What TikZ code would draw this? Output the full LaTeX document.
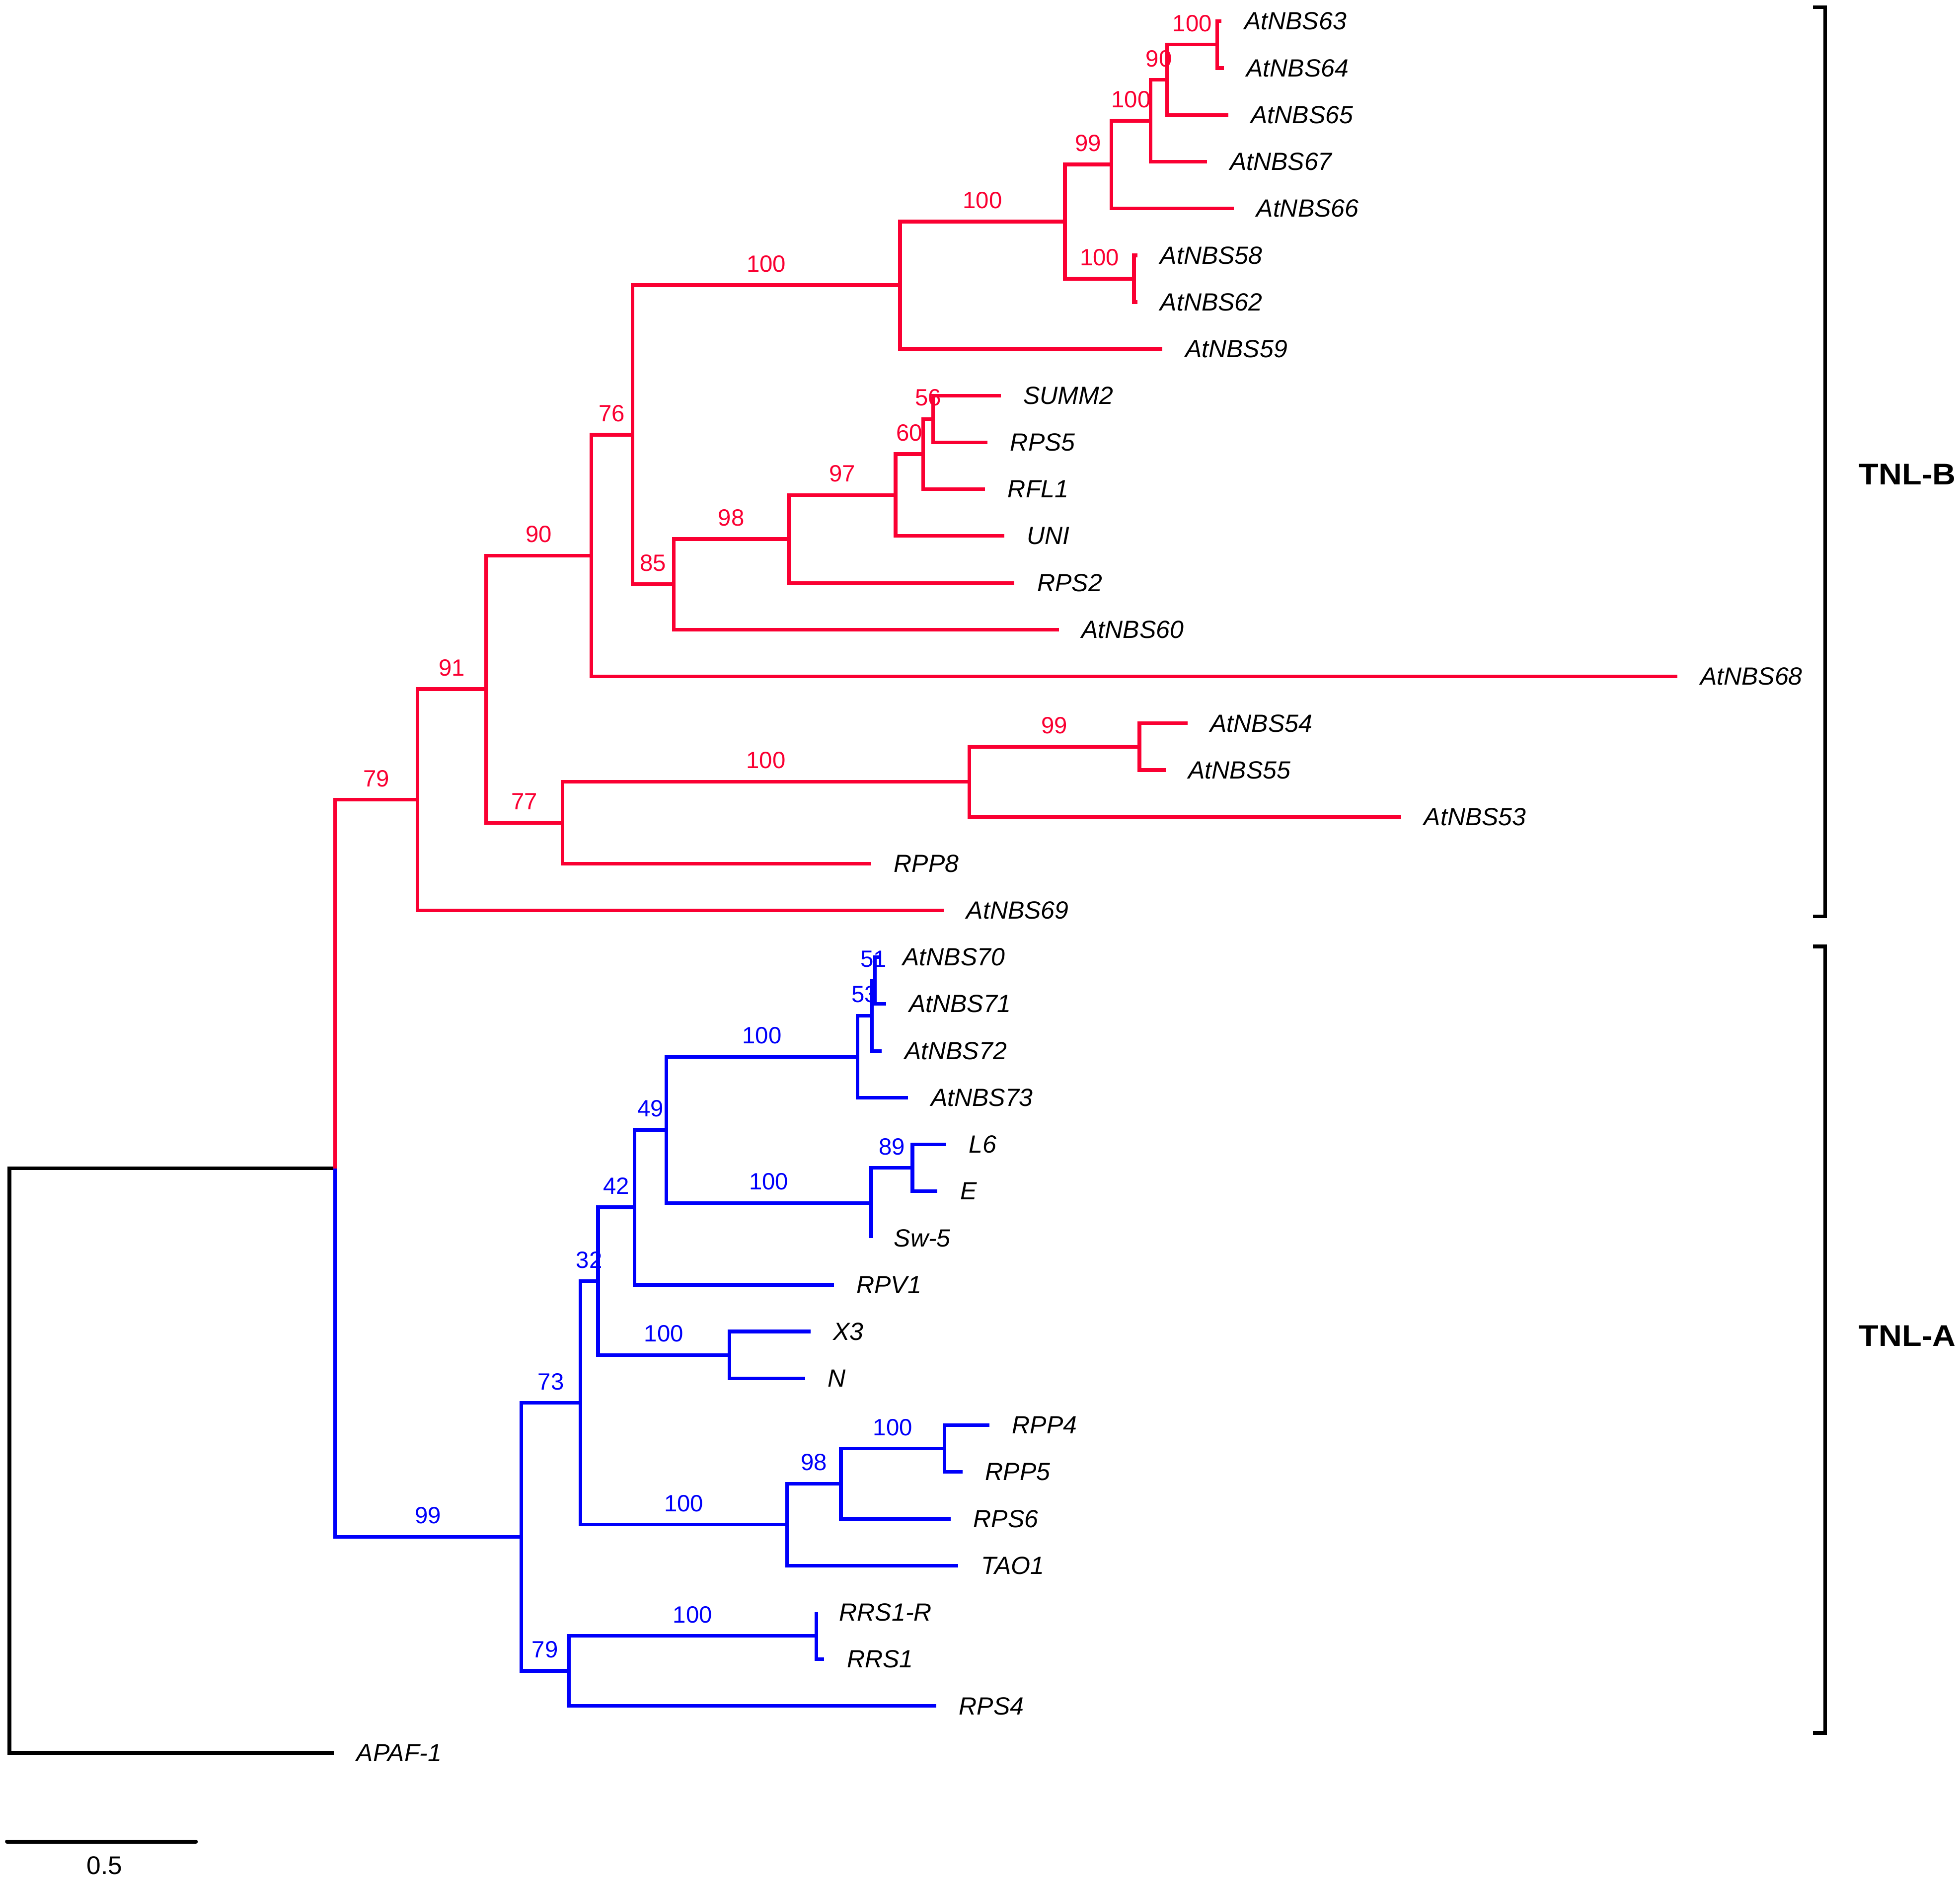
\documentclass[tikz,border=0pt]{standalone}
\usepackage{fontspec}
\setmainfont{Liberation Sans}
\definecolor{tnlb}{RGB}{250,0,50}
\definecolor{tnla}{RGB}{0,0,250}
\begin{document}
\begin{tikzpicture}[x=0.01cm,y=-0.01cm,
  br/.style={line width=0.029cm, line join=miter, line cap=butt},
  rb/.style={br, draw=tnlb},
  bb/.style={br, draw=tnla},
  kb/.style={br, draw=black},
  bsr/.style={pos=0.75, yshift=0.17cm, inner sep=0, text=tnlb, font=\fontsize{5.35}{6}\selectfont},
  bsb/.style={pos=0.75, yshift=0.17cm, inner sep=0, text=tnla, font=\fontsize{5.35}{6}\selectfont},
  leaf/.style={anchor=west, inner sep=0, xshift=0.175cm, font=\fontsize{5.65}{6}\selectfont\itshape},
  clade/.style={inner sep=0, font=\fontsize{6.8}{7}\selectfont\bfseries},
  brk/.style={line width=0.029cm, draw=black, line join=miter}
]
\useasboundingbox (0,0) rectangle (1568,1501);

% ---------- internal nodes ----------
\coordinate (Root) at (7.5,1168.2);
\coordinate (TNL) at (268,934.5);
% red clade
\coordinate (B79) at (334,639.7);
\coordinate (B91) at (389,551.2);
\coordinate (B90) at (473,444.35);
\coordinate (B76) at (506,347.7);
\coordinate (B100a) at (720,228.1);
\coordinate (B100b) at (852,177.25);
\coordinate (B99) at (889,131.6);
\coordinate (B100d) at (920.5,96.55);
\coordinate (B90b) at (933.8,63.8);
\coordinate (B100e) at (973.7,35.7);
\coordinate (B100c) at (907.2,222.9);
\coordinate (B85) at (539,467.35);
\coordinate (B98) at (631,431.1);
\coordinate (B97) at (716.5,395.95);
\coordinate (B60) at (738.6,363.2);
\coordinate (B56) at (746.5,335.15);
\coordinate (B77) at (450,658);
\coordinate (B100f) at (775.4,625.25);
\coordinate (B99b) at (911.5,597.2);
% blue clade
\coordinate (A99) at (417,1229.25);
\coordinate (A73) at (464.4,1122.1);
\coordinate (A32) at (478.4,1024.7);
\coordinate (A42) at (507.7,965.6);
\coordinate (A49) at (533,903.6);
\coordinate (A100u) at (686,845.15);
\coordinate (A53) at (697.5,812.4);
\coordinate (A51) at (700,784.3);
\coordinate (A100v) at (697,962.1);
\coordinate (A89) at (730,934.05);
\coordinate (A100x) at (583.6,1083.75);
\coordinate (A100s) at (629.7,1219.45);
\coordinate (A98) at (672.7,1186.7);
\coordinate (A100t) at (755.7,1158.6);
\coordinate (A79) at (455,1336.4);
\coordinate (A100r) at (653.2,1308.35);

% ---------- leaf tips ----------
\coordinate (lAtNBS63) at (977.3,17.0);
\coordinate (lAtNBS64) at (979,54.4);
\coordinate (lAtNBS65) at (982.6,91.9);
\coordinate (lAtNBS67) at (965.7,129.3);
\coordinate (lAtNBS66) at (987,166.7);
\coordinate (lAtNBS58) at (910,204.2);
\coordinate (lAtNBS62) at (910,241.6);
\coordinate (lAtNBS59) at (930,279.0);
\coordinate (lSUMM2) at (800.5,316.4);
\coordinate (lRPS5) at (790,353.9);
\coordinate (lRFL1) at (788,391.3);
\coordinate (lUNI) at (803.3,428.7);
\coordinate (lRPS2) at (811.6,466.2);
\coordinate (lAtNBS60) at (847,503.6);
\coordinate (lAtNBS68) at (1342,541.0);
\coordinate (lAtNBS54) at (950,578.5);
\coordinate (lAtNBS55) at (932.5,615.9);
\coordinate (lAtNBS53) at (1121,653.3);
\coordinate (lRPP8) at (697,690.7);
\coordinate (lAtNBS69) at (755,728.2);
\coordinate (lAtNBS70) at (704,765.6);
\coordinate (lAtNBS71) at (709,803.0);
\coordinate (lAtNBS72) at (705.5,840.5);
\coordinate (lAtNBS73) at (726.5,877.9);
\coordinate (lL6) at (757,915.3);
\coordinate (lE) at (750,952.8);
\coordinate (lSw5) at (697,990.2);
\coordinate (lRPV1) at (667,1027.6);
\coordinate (lX3) at (648.4,1065.0);
\coordinate (lN) at (644,1102.5);
\coordinate (lRPP4) at (791.5,1139.9);
\coordinate (lRPP5) at (770,1177.3);
\coordinate (lRPS6) at (760.5,1214.8);
\coordinate (lTAO1) at (766.7,1252.2);
\coordinate (lRRS1R) at (653.2,1289.6);
\coordinate (lRRS1) at (659.4,1327.1);
\coordinate (lRPS4) at (749,1364.5);
\coordinate (lAPAF1) at (267,1401.9);

% ---------- root (black) ----------
\draw[kb] (Root) |- (TNL);
\draw[kb] (Root) |- (lAPAF1);

% ---------- TNL-B (red) ----------
\draw[rb] (TNL) |- (B79) node[bsr]{79};
\draw[rb] (B79) |- (B91) node[bsr]{91};
\draw[rb] (B79) |- (lAtNBS69);
\draw[rb] (B91) |- (B90) node[bsr]{90};
\draw[rb] (B91) |- (B77) node[bsr]{77};
\draw[rb] (B90) |- (B76) node[bsr]{76};
\draw[rb] (B90) |- (lAtNBS68);
\draw[rb] (B76) |- (B100a) node[bsr]{100};
\draw[rb] (B76) |- (B85) node[bsr]{85};
\draw[rb] (B100a) |- (B100b) node[bsr]{100};
\draw[rb] (B100a) |- (lAtNBS59);
\draw[rb] (B100b) |- (B99) node[bsr]{99};
\draw[rb] (B100b) |- (B100c) node[bsr]{100};
\draw[rb] (B99) |- (B100d) node[bsr]{100};
\draw[rb] (B99) |- (lAtNBS66);
\draw[rb] (B100d) |- (B90b) node[bsr]{90};
\draw[rb] (B100d) |- (lAtNBS67);
\draw[rb] (B90b) |- (B100e) node[bsr]{100};
\draw[rb] (B90b) |- (lAtNBS65);
\draw[rb] (B100e) |- (lAtNBS63);
\draw[rb] (B100e) |- (lAtNBS64);
\draw[rb] (B100c) |- (lAtNBS58);
\draw[rb] (B100c) |- (lAtNBS62);
\draw[rb] (B85) |- (B98) node[bsr]{98};
\draw[rb] (B85) |- (lAtNBS60);
\draw[rb] (B98) |- (B97) node[bsr]{97};
\draw[rb] (B98) |- (lRPS2);
\draw[rb] (B97) |- (B60) node[bsr]{60};
\draw[rb] (B97) |- (lUNI);
\draw[rb] (B60) |- (B56) node[bsr]{56};
\draw[rb] (B60) |- (lRFL1);
\draw[rb] (B56) |- (lSUMM2);
\draw[rb] (B56) |- (lRPS5);
\draw[rb] (B77) |- (B100f) node[bsr]{100};
\draw[rb] (B77) |- (lRPP8);
\draw[rb] (B100f) |- (B99b) node[bsr]{99};
\draw[rb] (B100f) |- (lAtNBS53);
\draw[rb] (B99b) |- (lAtNBS54);
\draw[rb] (B99b) |- (lAtNBS55);

% ---------- TNL-A (blue) ----------
\draw[bb] (TNL) |- (A99) node[bsb]{99};
\draw[bb] (A99) |- (A73) node[bsb]{73};
\draw[bb] (A99) |- (A79) node[bsb]{79};
\draw[bb] (A73) |- (A32) node[bsb]{32};
\draw[bb] (A73) |- (A100s) node[bsb]{100};
\draw[bb] (A32) |- (A42) node[bsb]{42};
\draw[bb] (A32) |- (A100x) node[bsb]{100};
\draw[bb] (A42) |- (A49) node[bsb]{49};
\draw[bb] (A42) |- (lRPV1);
\draw[bb] (A49) |- (A100u) node[bsb]{100};
\draw[bb] (A49) |- (A100v) node[bsb]{100};
\draw[bb] (A100u) |- (A53) node[bsb]{53};
\draw[bb] (A100u) |- (lAtNBS73);
\draw[bb] (A53) |- (A51) node[bsb]{51};
\draw[bb] (A53) |- (lAtNBS72);
\draw[bb] (A51) |- (lAtNBS70);
\draw[bb] (A51) |- (lAtNBS71);
\draw[bb] (A100v) |- (A89) node[bsb]{89};
\draw[bb] (A100v) |- (lSw5);
\draw[bb] (A89) |- (lL6);
\draw[bb] (A89) |- (lE);
\draw[bb] (A100x) |- (lX3);
\draw[bb] (A100x) |- (lN);
\draw[bb] (A100s) |- (A98) node[bsb]{98};
\draw[bb] (A100s) |- (lTAO1);
\draw[bb] (A98) |- (A100t) node[bsb]{100};
\draw[bb] (A98) |- (lRPS6);
\draw[bb] (A100t) |- (lRPP4);
\draw[bb] (A100t) |- (lRPP5);
\draw[bb] (A79) |- (A100r) node[bsb]{100};
\draw[bb] (A79) |- (lRPS4);
\draw[bb] (A100r) |- (lRRS1R);
\draw[bb] (A100r) |- (lRRS1);

% ---------- leaf labels ----------
\node[leaf] (tAtNBS63) at (lAtNBS63) {AtNBS63};
\node[leaf] (tAtNBS64) at (lAtNBS64) {AtNBS64};
\node[leaf] (tAtNBS65) at (lAtNBS65) {AtNBS65};
\node[leaf] (tAtNBS67) at (lAtNBS67) {AtNBS67};
\node[leaf] (tAtNBS66) at (lAtNBS66) {AtNBS66};
\node[leaf] (tAtNBS58) at (lAtNBS58) {AtNBS58};
\node[leaf] (tAtNBS62) at (lAtNBS62) {AtNBS62};
\node[leaf] (tAtNBS59) at (lAtNBS59) {AtNBS59};
\node[leaf] (tSUMM2) at (lSUMM2) {SUMM2};
\node[leaf] (tRPS5) at (lRPS5) {RPS5};
\node[leaf] (tRFL1) at (lRFL1) {RFL1};
\node[leaf] (tUNI) at (lUNI) {UNI};
\node[leaf] (tRPS2) at (lRPS2) {RPS2};
\node[leaf] (tAtNBS60) at (lAtNBS60) {AtNBS60};
\node[leaf] (tAtNBS68) at (lAtNBS68) {AtNBS68};
\node[leaf] (tAtNBS54) at (lAtNBS54) {AtNBS54};
\node[leaf] (tAtNBS55) at (lAtNBS55) {AtNBS55};
\node[leaf] (tAtNBS53) at (lAtNBS53) {AtNBS53};
\node[leaf] (tRPP8) at (lRPP8) {RPP8};
\node[leaf] (tAtNBS69) at (lAtNBS69) {AtNBS69};
\node[leaf] (tAtNBS70) at (lAtNBS70) {AtNBS70};
\node[leaf] (tAtNBS71) at (lAtNBS71) {AtNBS71};
\node[leaf] (tAtNBS72) at (lAtNBS72) {AtNBS72};
\node[leaf] (tAtNBS73) at (lAtNBS73) {AtNBS73};
\node[leaf] (tL6) at (lL6) {L6};
\node[leaf] (tE) at (lE) {E};
\node[leaf] (tSw5) at (lSw5) {Sw-5};
\node[leaf] (tRPV1) at (lRPV1) {RPV1};
\node[leaf] (tX3) at (lX3) {X3};
\node[leaf] (tN) at (lN) {N};
\node[leaf] (tRPP4) at (lRPP4) {RPP4};
\node[leaf] (tRPP5) at (lRPP5) {RPP5};
\node[leaf] (tRPS6) at (lRPS6) {RPS6};
\node[leaf] (tTAO1) at (lTAO1) {TAO1};
\node[leaf] (tRRS1R) at (lRRS1R) {RRS1-R};
\node[leaf] (tRRS1) at (lRRS1) {RRS1};
\node[leaf] (tRPS4) at (lRPS4) {RPS4};
\node[leaf] (tAPAF1) at (lAPAF1) {APAF-1};

% ---------- clade brackets ----------
\coordinate (bBt) at (1450.5,5.8);
\coordinate (bBb) at (1450.5,733);
\coordinate (bAt) at (1450.5,757);
\coordinate (bAb) at (1450.5,1386);
\draw[brk] (bBt) -- ++(9.5,0) |- (bBb);
\draw[brk] (bAt) -- ++(9.5,0) |- (bAb);
\node[clade] (cB) at (1526,379.5) {\scalebox{1.08}[1]{TNL-B}};
\node[clade] (cA) at (1526,1068.6) {\scalebox{1.08}[1]{TNL-A}};

% ---------- scale bar ----------
\coordinate (sbL) at (5.5,1473);
\coordinate (sbR) at (156.8,1473);
\draw[line width=0.029cm, line cap=round, draw=black] (sbL) -- (sbR);
\node[inner sep=0, font=\fontsize{5.8}{6}\selectfont] (sbT) at (83.5,1492) {0.5};
\end{tikzpicture}
\end{document}
